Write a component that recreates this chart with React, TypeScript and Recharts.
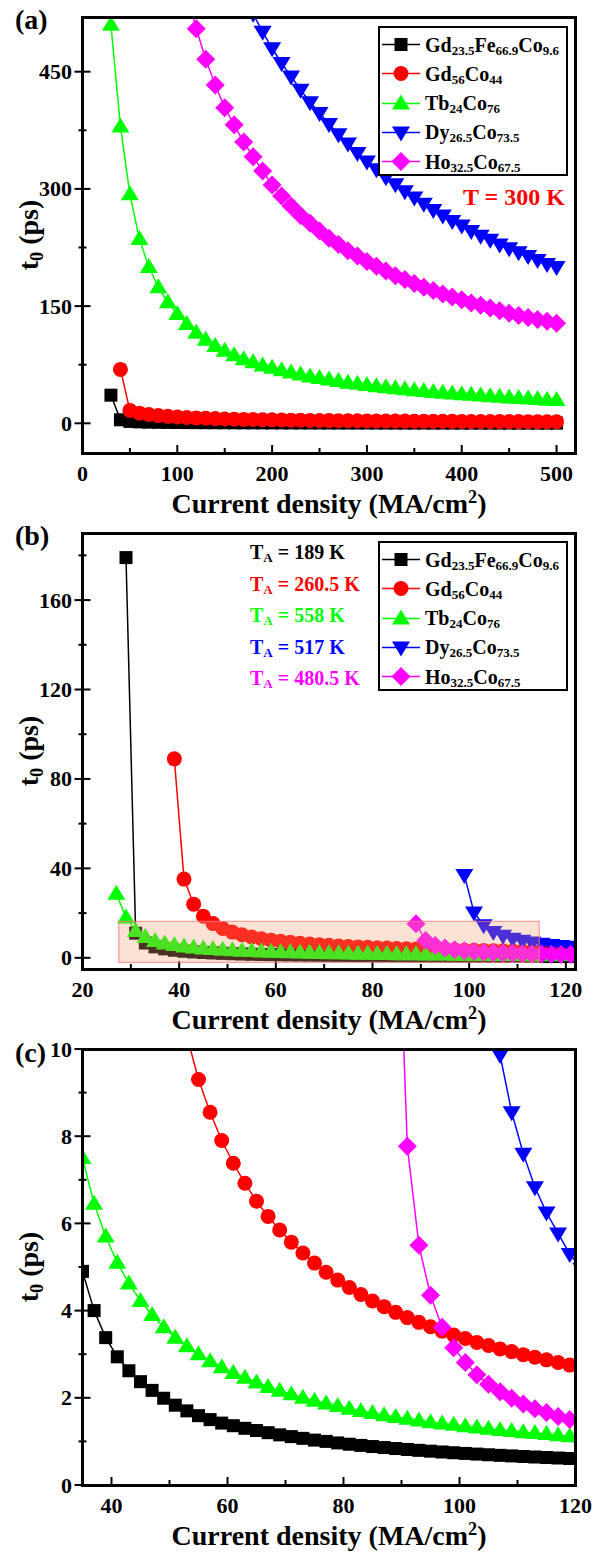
import React from "react";
import { LineChart, Line, XAxis, YAxis, ReferenceArea } from "recharts";

// current density grids (MA/cm^2)
const aX = [30, 40, 50, 60, 70, 80, 90, 100, 110, 120, 130, 140, 150, 160, 170, 180, 190, 200, 210, 220, 230, 240, 250, 260, 270, 280, 290, 300, 310, 320, 330, 340, 350, 360, 370, 380, 390, 400, 410, 420, 430, 440, 450, 460, 470, 480, 490, 500];
const bX = [27, 29, 31, 33, 35, 37, 39, 41, 43, 45, 47, 49, 51, 53, 55, 57, 59, 61, 63, 65, 67, 69, 71, 73, 75, 77, 79, 81, 83, 85, 87, 89, 91, 93, 95, 97, 99, 101, 103, 105, 107, 109, 111, 113, 115, 117, 119, 121];

// (a) T = 300 K, t0 in ps
const aGdFeCo = [36, 4.5, 2.4, 1.8, 1.5, 1.3, 1.15, 1.05, 0.96, 0.88, 0.82, 0.77, 0.72, 0.68, 0.64, 0.61, 0.58, 0.55, 0.53, 0.51, 0.49, 0.47, 0.45, 0.44, 0.42, 0.41, 0.4, 0.38, 0.37, 0.36, 0.35, 0.34, 0.335, 0.33, 0.32, 0.315, 0.31, 0.3, 0.295, 0.29, 0.285, 0.28, 0.275, 0.27, 0.265, 0.26, 0.255, 0.25];
const aGdCo = [69, 16.5, 13, 11.2, 9.9, 8.9, 8.1, 7.4, 6.9, 6.4, 6.0, 5.6, 5.3, 5.0, 4.8, 4.6, 4.4, 4.2, 4.05, 3.9, 3.75, 3.6, 3.5, 3.4, 3.3, 3.2, 3.1, 3.0, 2.95, 2.88, 2.8, 2.74, 2.68, 2.62, 2.56, 2.5, 2.45, 2.4, 2.35, 2.3, 2.26, 2.22, 2.18, 2.14, 2.1, 2.07, 2.03];
const aTbCo = [510, 380, 293, 236, 200, 174, 155, 140, 127, 116, 107, 99, 93, 87, 82, 78, 74, 71, 68, 65, 62.5, 60, 58, 56, 54, 52, 50.5, 49, 47.5, 46, 44.8, 43.6, 42.4, 41.3, 40.2, 39.2, 38.2, 37.3, 36.4, 35.5, 34.7, 33.9, 33.1, 32.4, 31.7, 31, 30.3, 29.7];
const aDyCo = [524, 501, 480, 461, 444, 427, 411, 397, 383, 370, 358, 346, 335, 325, 315, 306, 297, 289, 281, 273, 266, 259, 253, 246, 240, 235, 229, 224, 219, 214, 209, 204, 200];
const aHoCo = [551, 505, 466, 433, 404, 382, 360, 341, 323, 305, 291, 278, 266, 256, 246, 237, 229, 221, 214, 207, 201, 195, 189, 184, 179, 174, 170, 165.5, 161.5, 158, 154, 151, 147.5, 144, 141, 138, 135.5, 133, 130.5, 128];

// (b)/(c) at T_A
const bGdFeCo = [179, 11, 6.6, 4.9, 4.0, 3.38, 2.94, 2.62, 2.37, 2.17, 1.99, 1.83, 1.7, 1.59, 1.5, 1.42, 1.36, 1.3, 1.25, 1.2, 1.15, 1.11, 1.07, 1.03, 1.0, 0.965, 0.935, 0.908, 0.882, 0.859, 0.836, 0.815, 0.795, 0.776, 0.757, 0.74, 0.724, 0.709, 0.694, 0.68, 0.667, 0.654, 0.642, 0.63, 0.619, 0.608, 0.598];
const bGdCo = [89, 35.2, 24, 18.6, 15.3, 13.1, 11.5, 10.3, 9.3, 8.55, 7.9, 7.38, 6.92, 6.51, 6.16, 5.85, 5.57, 5.32, 5.09, 4.88, 4.7, 4.53, 4.37, 4.22, 4.09, 3.96, 3.84, 3.73, 3.63, 3.53, 3.44, 3.36, 3.27, 3.2, 3.12, 3.06, 2.99, 2.93, 2.87, 2.81, 2.75, 2.7];
const bTbCo = [28.7, 18, 12, 9.3, 7.5, 6.45, 5.7, 5.1, 4.62, 4.22, 3.9, 3.62, 3.38, 3.18, 3.0, 2.84, 2.7, 2.57, 2.46, 2.35, 2.25, 2.16, 2.08, 2.0, 1.93, 1.87, 1.81, 1.75, 1.7, 1.65, 1.6, 1.56, 1.52, 1.48, 1.44, 1.41, 1.38, 1.35, 1.32, 1.29, 1.26, 1.24, 1.21, 1.19, 1.17, 1.14, 1.12, 1.1];
const bDyCo = [37, 20.3, 14.6, 11.6, 9.86, 8.55, 7.6, 6.83, 6.25, 5.77, 5.3, 4.96];
const bHoCo = [15.2, 7.77, 5.5, 4.35, 3.62, 3.15, 2.81, 2.53, 2.31, 2.14, 1.99, 1.86, 1.75, 1.66, 1.57, 1.5, 1.43];

// highlighted region in (b) that (c) enlarges
const zoomBox = { x1: 27.5, x2: 114.5, y1: -2, y2: 16.3 };

const legendNames = [
  [["Gd", "23.5"], ["Fe", "66.9"], ["Co", "9.6"]],
  [["Gd", "56"], ["Co", "44"]],
  [["Tb", "24"], ["Co", "76"]],
  [["Dy", "26.5"], ["Co", "73.5"]],
  [["Ho", "32.5"], ["Co", "67.5"]],
];
const colors = ["#000000", "#ff0000", "#00ff00", "#0000ff", "#ff00ff"];
const shapes = ["square", "circle", "up", "down", "diamond"];
const taValues = ["189", "260.5", "558", "517", "480.5"];

const pair = (xs: number[], ys: number[], start: number) =>
  ys.map((y, i) => ({ x: xs[start + i], y }));

const seriesA = [
  pair(aX, aGdFeCo, 0),
  pair(aX, aGdCo, 1),
  pair(aX, aTbCo, 0),
  pair(aX, aDyCo, 15),
  pair(aX, aHoCo, 8),
];
const seriesB = [
  pair(bX, bGdFeCo, 1),
  pair(bX, bGdCo, 6),
  pair(bX, bTbCo, 0),
  pair(bX, bDyCo, 36),
  pair(bX, bHoCo, 31),
];

const FONT = '"Liberation Serif", "Times New Roman", serif';
const LEFT = 82.5;
const TOP = 17;
const PW = 493;
const PH = 436;
const CH = 516;

function marker(shape: string, cx: number, cy: number, color: string, key?: any) {
  if (shape === "square")
    return <rect key={key} x={cx - 6.5} y={cy - 6.5} width={13} height={13} fill={color} />;
  if (shape === "circle") return <circle key={key} cx={cx} cy={cy} r={7.5} fill={color} />;
  if (shape === "up")
    return <polygon key={key} points={`${cx},${cy - 9} ${cx - 9},${cy + 6} ${cx + 9},${cy + 6}`} fill={color} />;
  if (shape === "down")
    return <polygon key={key} points={`${cx},${cy + 9} ${cx - 9},${cy - 6} ${cx + 9},${cy - 6}`} fill={color} />;
  return <polygon key={key} points={`${cx},${cy - 9.5} ${cx + 9.5},${cy} ${cx},${cy + 9.5} ${cx - 9.5},${cy}`} fill={color} />;
}

const tickFont = { fontFamily: FONT, fontWeight: 700, fontSize: 22, fill: "#000" };
const chartMargin = { top: TOP, right: 610 - LEFT - PW, bottom: 0, left: 0 };

function Panel(props: any) {
  const { data, xDomain, yDomain, xTicks, xMajor, yTicks, yMajor } = props;
  return (
    <LineChart width={610} height={CH} margin={chartMargin}>
      <XAxis
        dataKey="x"
        type="number"
        domain={xDomain}
        ticks={xTicks}
        interval={0}
        allowDataOverflow
        axisLine={false}
        tickLine={false}
        tickSize={0}
        tickMargin={0}
        height={CH - TOP - PH}
        tick={(p: any) => {
          const major = xMajor.includes(p.payload.value);
          return (
            <g key={`xt-${p.payload.value}`}>
              <line x1={p.x} x2={p.x} y1={p.y} y2={p.y - (major ? 8 : 5)} stroke="#000" strokeWidth={2} />
              {major && (
                <text x={p.x} y={p.y + 28} textAnchor="middle" style={tickFont}>
                  {p.payload.value}
                </text>
              )}
            </g>
          );
        }}
      />
      <YAxis
        type="number"
        domain={yDomain}
        ticks={yTicks}
        interval={0}
        allowDataOverflow
        axisLine={false}
        tickLine={false}
        tickSize={0}
        tickMargin={0}
        width={LEFT}
        tick={(p: any) => {
          const major = yMajor.includes(p.payload.value);
          return (
            <g key={`yt-${p.payload.value}`}>
              <line x1={p.x - (major ? 8 : 4)} x2={p.x + (major ? 8 : 4)} y1={p.y} y2={p.y} stroke="#000" strokeWidth={2} />
              {major && (
                <text x={p.x - 10.5} y={p.y + 7.5} textAnchor="end" style={tickFont}>
                  {p.payload.value}
                </text>
              )}
            </g>
          );
        }}
      />
      {data.map((d: any[], i: number) => (
        <Line
          key={i}
          data={d}
          dataKey="y"
          type="linear"
          stroke={colors[i]}
          strokeWidth={1.5}
          activeDot={false}
          isAnimationActive={false}
          dot={(p: any) => marker(shapes[i], p.cx, p.cy, colors[i], `d${i}-${p.index}`)}
        />
      ))}
    </LineChart>
  );
}

// transparent copy of panel (b)'s axes, so the highlight box sits over the markers
function BoxOverlay({ xDomain, yDomain }: any) {
  return (
    <LineChart width={610} height={CH} margin={chartMargin}>
      <XAxis dataKey="x" type="number" domain={xDomain} allowDataOverflow tick={false} tickLine={false} axisLine={false} height={CH - TOP - PH} />
      <YAxis type="number" domain={yDomain} allowDataOverflow tick={false} tickLine={false} axisLine={false} width={LEFT} />
      <Line data={[{ x: xDomain[0], y: yDomain[0] }]} dataKey="y" stroke="none" dot={false} activeDot={false} isAnimationActive={false} />
      <ReferenceArea
        x1={zoomBox.x1}
        x2={zoomBox.x2}
        y1={zoomBox.y1}
        y2={zoomBox.y2}
        fill="#f5a070"
        fillOpacity={0.3}
        stroke="#f08080"
        strokeOpacity={0.75}
        strokeWidth={1.2}
        ifOverflow="visible"
      />
    </LineChart>
  );
}

function Sub({ children }: any) {
  return <sub style={{ fontSize: "0.65em", verticalAlign: "-0.25em", lineHeight: 0 }}>{children}</sub>;
}

function Legend({ top }: { top: number }) {
  return (
    <div style={{ position: "absolute", left: 378, top, width: 190, height: 150, border: "2px solid #000", boxSizing: "border-box", background: "#fff" }}>
      {legendNames.map((parts, i) => (
        <div key={i} style={{ position: "absolute", left: 0, top: 2 + i * 29.3, height: 29, display: "flex", alignItems: "center" }}>
          <svg width={42} height={29} style={{ display: "block" }}>
            <line x1={2} x2={40} y1={14.5} y2={14.5} stroke={colors[i]} strokeWidth={1.5} />
            {marker(shapes[i], 21, 14.5, colors[i])}
          </svg>
          <span style={{ fontSize: 20, marginLeft: 3, whiteSpace: "nowrap", lineHeight: 1 }}>
            {parts.map(([a, b], j) => (
              <span key={j}>
                {a}
                <Sub>{b}</Sub>
              </span>
            ))}
          </span>
        </div>
      ))}
    </div>
  );
}

function Frame({ top }: { top: number }) {
  return (
    <div style={{ position: "absolute", left: LEFT - 1.5, top: top + TOP - 1.5, width: PW + 3, height: PH + 3, border: "3px solid #000", boxSizing: "border-box", pointerEvents: "none" }} />
  );
}

function Titles({ top, tag }: { top: number; tag: string }) {
  return (
    <>
      <div style={{ position: "absolute", left: 15, top: top + (tag === "(c)" ? 7 : 6), fontSize: 28, lineHeight: 1 }}>{tag}</div>
      <div style={{ position: "absolute", left: LEFT + PW / 2, top: top + TOP + PH + 37, fontSize: 28, lineHeight: 1, transform: "translateX(-50%)", whiteSpace: "nowrap" }}>
        Current density (MA/cm<sup style={{ fontSize: "0.65em", lineHeight: 0 }}>2</sup>)
      </div>
      <div style={{ position: "absolute", left: 29, top: top + TOP + PH / 2, fontSize: 28, lineHeight: 1, transform: "translate(-50%, -50%) rotate(-90deg)", whiteSpace: "nowrap" }}>
        t<Sub>0</Sub> (ps)
      </div>
    </>
  );
}

export default function App() {
  return (
    <div style={{ position: "absolute", left: 0, top: 0, width: 610, height: 1552, background: "#fff", fontFamily: FONT, fontWeight: 700, color: "#000" }}>
      <div style={{ position: "absolute", left: 0, top: 0 }}>
        <Panel
          data={seriesA}
          xDomain={[0, 520]}
          yDomain={[-38, 520]}
          xTicks={[0, 50, 100, 150, 200, 250, 300, 350, 400, 450, 500]}
          xMajor={[0, 100, 200, 300, 400, 500]}
          yTicks={[0, 75, 150, 225, 300, 375, 450]}
          yMajor={[0, 150, 300, 450]}
        />
      </div>
      <div style={{ position: "absolute", left: 0, top: CH }}>
        <Panel
          data={seriesB}
          xDomain={[20, 122]}
          yDomain={[-5, 190]}
          xTicks={[20, 30, 40, 50, 60, 70, 80, 90, 100, 110, 120]}
          xMajor={[20, 40, 60, 80, 100, 120]}
          yTicks={[0, 20, 40, 60, 80, 100, 120, 140, 160, 180]}
          yMajor={[0, 40, 80, 120, 160]}
        />
      </div>
      <div style={{ position: "absolute", left: 0, top: CH }}>
        <BoxOverlay xDomain={[20, 122]} yDomain={[-5, 190]} />
      </div>
      <div style={{ position: "absolute", left: 0, top: CH * 2 }}>
        <Panel
          data={seriesB}
          xDomain={[35, 120]}
          yDomain={[0, 10]}
          xTicks={[40, 50, 60, 70, 80, 90, 100, 110, 120]}
          xMajor={[40, 60, 80, 100, 120]}
          yTicks={[0, 1, 2, 3, 4, 5, 6, 7, 8, 9, 10]}
          yMajor={[0, 2, 4, 6, 8, 10]}
        />
      </div>

      <Frame top={0} />
      <Frame top={CH} />
      <Frame top={CH * 2} />
      <Titles top={0} tag="(a)" />
      <Titles top={CH} tag="(b)" />
      <Titles top={CH * 2} tag="(c)" />

      <Legend top={26} />
      <Legend top={541} />

      <div style={{ position: "absolute", left: 463, top: 185, fontSize: 24, lineHeight: 1, color: "#ff0000", whiteSpace: "nowrap" }}>T = 300 K</div>

      {taValues.map((v, i) => (
        <div key={v} style={{ position: "absolute", left: 250, top: CH + 26 + i * 31.6, fontSize: 20, lineHeight: 1, color: colors[i], whiteSpace: "nowrap" }}>
          T<Sub>A</Sub> = {v} K
        </div>
      ))}
    </div>
  );
}
